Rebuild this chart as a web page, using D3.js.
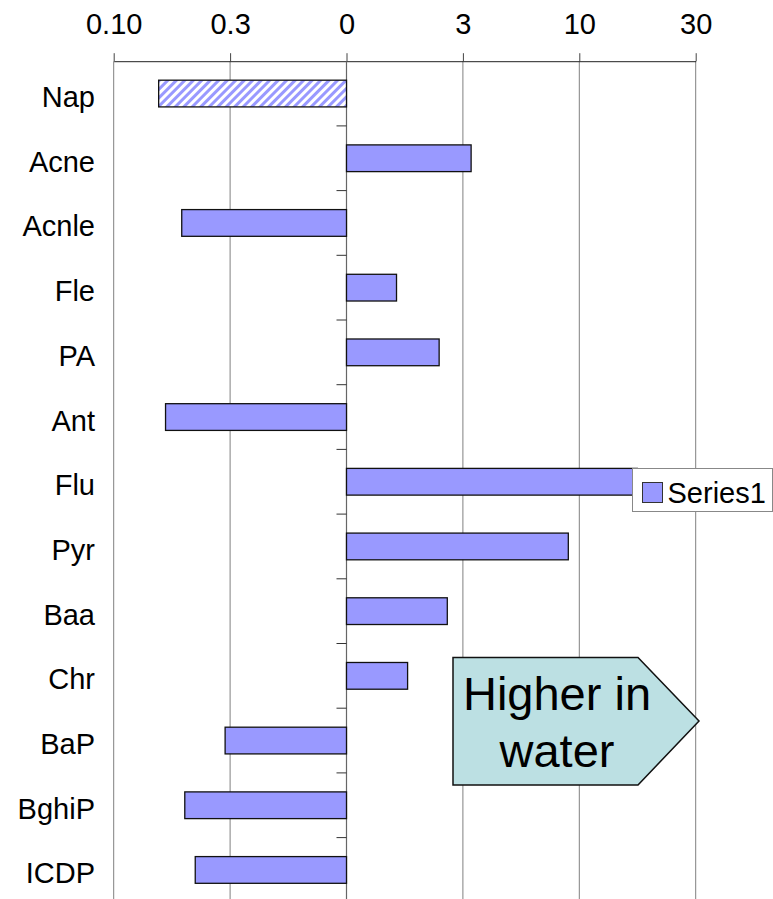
<!DOCTYPE html>
<html>
<head>
<meta charset="utf-8">
<script src="https://cdn.jsdelivr.net/npm/d3@7"></script>
<style>
  body { margin: 0; background: #fff; }
  svg { display: block; font-family: "Liberation Sans", Arial, sans-serif; }
</style>
</head>
<body>
<div class="svg-container"></div>
<script>
// chart data
const categories = ['Nap', 'Acne', 'Acnle', 'Fle', 'PA', 'Ant', 'Flu', 'Pyr', 'Baa', 'Chr', 'BaP', 'BghiP', 'ICDP'];
const series1 = [0.156, 3.43, 0.196, 1.64, 2.50, 0.167, 17.75, 8.97, 2.71, 1.83, 0.301, 0.202, 0.224];
const hatched = ['Nap'];
const tickValues = [0.1, Math.pow(10, -0.5), 1, Math.pow(10, 0.5), 10, Math.pow(10, 1.5)];
const tickLabels = ['0.10', '0.3', '0', '3', '10', '30'];
const seriesName = 'Series1';
const calloutLines = ['Higher in', 'water'];

// dimensions
const width = 773;
const height = 899;
const plot = { left: 113.7, right: 695.7, top: 61.2, bottom: 902.3 };
const barColour = '#9999ff';

const svg = d3.select('.svg-container')
  .append('svg')
  .attr('width', width)
  .attr('height', height);

// hatch pattern for Nap
const defs = svg.append('defs');
const pattern = defs.append('pattern')
  .attr('id', 'hatch')
  .attr('patternUnits', 'userSpaceOnUse')
  .attr('width', 6)
  .attr('height', 6)
  .attr('patternTransform', 'rotate(45)');
pattern.append('rect').attr('width', 6).attr('height', 6).attr('fill', '#fff');
pattern.append('rect').attr('width', 3).attr('height', 6).attr('fill', barColour);

// scales
const x = d3.scaleLog()
  .domain([tickValues[0], tickValues[tickValues.length - 1]])
  .range([plot.left, plot.right]);

const y = d3.scaleBand()
  .domain(categories)
  .range([plot.top, plot.bottom])
  .paddingInner(0.587)
  .paddingOuter(0.2935);

// vertical gridlines
svg.append('g')
  .selectAll('line')
  .data(tickValues)
  .enter()
  .append('line')
  .attr('x1', d => x(d))
  .attr('x2', d => x(d))
  .attr('y1', plot.top)
  .attr('y2', height)
  .attr('stroke', '#808080')
  .attr('stroke-width', 1);

// top axis
const xAxis = d3.axisTop(x)
  .tickValues(tickValues)
  .tickFormat((d, i) => tickLabels[i])
  .tickSize(8)
  .tickSizeOuter(0)
  .tickPadding(19);

const gx = svg.append('g')
  .attr('transform', `translate(0,${plot.top})`)
  .call(xAxis);
gx.select('.domain').attr('stroke', '#222');
gx.selectAll('.tick line').attr('stroke', '#444');
gx.selectAll('.tick text')
  .attr('font-size', 29)
  .attr('fill', '#000')
  .attr('font-family', '"Liberation Sans", Arial, sans-serif');

// category axis at value 1
const zeroX = x(1);
svg.append('line')
  .attr('x1', zeroX).attr('x2', zeroX)
  .attr('y1', plot.top).attr('y2', height)
  .attr('stroke', '#666')
  .attr('stroke-width', 1.2);

svg.append('g')
  .selectAll('line')
  .data(categories.slice(1))
  .enter()
  .append('line')
  .attr('x1', zeroX - 10)
  .attr('x2', zeroX)
  .attr('y1', d => y(d) - y.step() * y.paddingInner() / 2)
  .attr('y2', d => y(d) - y.step() * y.paddingInner() / 2)
  .attr('stroke', '#333');

// category labels
svg.append('g')
  .selectAll('text')
  .data(categories)
  .enter()
  .append('text')
  .attr('x', 95)
  .attr('y', d => y(d) + y.bandwidth() / 2 + 13.5)
  .attr('text-anchor', 'end')
  .attr('font-size', 29)
  .attr('fill', '#000')
  .text(d => d);

// bars
svg.append('g')
  .selectAll('rect')
  .data(categories.map((c, i) => ({ name: c, value: series1[i] })))
  .enter()
  .append('rect')
  .attr('x', d => Math.min(x(d.value), zeroX))
  .attr('y', d => y(d.name))
  .attr('width', d => Math.abs(x(d.value) - zeroX))
  .attr('height', y.bandwidth())
  .attr('fill', d => hatched.includes(d.name) ? 'url(#hatch)' : barColour)
  .attr('stroke', '#111')
  .attr('stroke-width', 1.3);

// legend
const legend = svg.append('g')
  .attr('id', 'legend')
  .attr('transform', 'translate(632.5,468.5)');
legend.append('rect')
  .attr('width', 140)
  .attr('height', 43)
  .attr('fill', '#fff')
  .attr('stroke', '#888');
legend.append('rect')
  .attr('x', 10)
  .attr('y', 14)
  .attr('width', 20)
  .attr('height', 20)
  .attr('fill', barColour)
  .attr('stroke', '#333');
legend.append('text')
  .attr('x', 35)
  .attr('y', 34)
  .attr('font-size', 29)
  .attr('fill', '#000')
  .text(seriesName);

// callout arrow
const arrow = svg.append('g');
arrow.append('path')
  .attr('d', 'M453,657.5 L638,657.5 L699,721 L638,785 L453,785 Z')
  .attr('fill', '#bce0e3')
  .attr('stroke', '#111')
  .attr('stroke-width', 1.5);
arrow.selectAll('text')
  .data(calloutLines)
  .enter()
  .append('text')
  .attr('x', 557)
  .attr('y', (d, i) => 710 + i * 57)
  .attr('text-anchor', 'middle')
  .attr('font-size', 47)
  .attr('fill', '#000')
  .text(d => d);
</script>
</body>
</html>
